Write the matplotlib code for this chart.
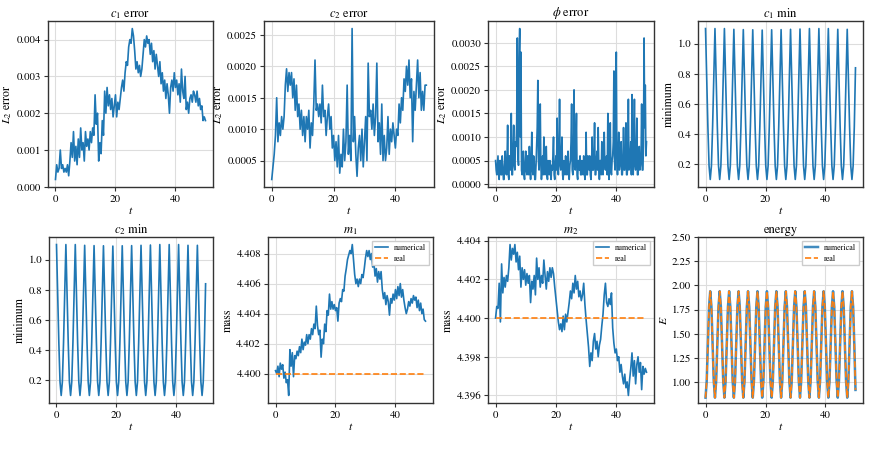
# Recreation of 2x4 diagnostics panel (errors, minima, mass, energy)

import numpy as np
import matplotlib
matplotlib.use('Agg')
import matplotlib.pyplot as plt
from matplotlib.ticker import MultipleLocator

plt.rcParams['font.family'] = 'serif'
plt.rcParams['font.serif'] = ['STIXGeneral', 'Liberation Serif', 'DejaVu Serif']
plt.rcParams['mathtext.fontset'] = 'stix'

# ---- Data ----
# L2 errors, units of 1e-4, sampled every 0.4 in t
c1_err = [2, 6, 4, 5, 10, 5, 6, 4, 5, 4,
          6, 3, 7, 12, 8, 15, 7, 11, 6, 13,
          8, 16, 10, 12, 7, 15, 11, 13, 10, 15,
          12, 16, 14, 25, 17, 20, 7, 12, 9, 18,
          14, 26, 20, 27, 22, 25, 21, 24, 19, 22,
          25, 19, 23, 21, 24, 27, 29, 26, 31, 34,
          33, 38, 40, 39, 43, 41, 37, 32, 34, 31,
          33, 30, 32, 36, 40, 38, 41, 39, 40, 36,
          39, 34, 37, 32, 36, 33, 30, 34, 28, 31,
          26, 29, 24, 28, 25, 20, 27, 29, 26, 31,
          27, 29, 25, 28, 23, 32, 26, 24, 30, 21,
          23, 20, 24, 25, 23, 26, 25, 23, 26, 22,
          24, 21, 22, 18, 19, 18]

c2_err = [2, 4, 6, 9, 15, 8, 11, 9, 12, 10,
          12, 17, 19.6, 16, 19, 17, 19, 15, 18, 13,
          17, 12, 14, 10, 13, 9, 12, 8, 12, 10,
          13, 7, 11, 9, 14, 21, 13, 14, 12, 14,
          11, 17, 12, 13, 9, 12, 14, 10, 12, 7,
          9, 5, 8, 4, 9, 3, 6, 4, 10, 5,
          8, 17, 6, 9, 5, 26, 8, 12, 6, 2.5,
          7, 9, 5, 10, 4, 8, 12, 5, 20.5, 12,
          13, 10, 14, 9, 12, 20.5, 8, 11, 6, 14,
          5, 9, 5, 7, 12, 6, 10, 8, 11, 9,
          7, 10, 9, 14, 11, 15, 13, 18, 16, 20,
          17, 21, 15, 18, 8, 16, 13, 17, 21, 15,
          19, 13, 16, 13, 17, 17]

# phi error, units of 1e-4, sampled every 0.2 in t
phi_err = [5, 3, 2, 4, 6, 2, 1, 5, 5, 2, 2, 6, 4, 1, 1, 4, 7, 3, 2, 5,
           12.5, 2, 1, 6, 6, 3, 15, 2, 2, 7, 12.5, 4, 3, 9, 8, 13, 31, 6, 4, 27,
           33, 10, 28, 3, 2, 5, 7, 2, 1, 4, 7, 3, 2, 6, 5, 2, 8, 4, 1, 5,
           11, 3, 2, 6, 5, 1, 1, 4, 8, 12, 22, 5, 3, 9, 17, 4, 1, 3, 6, 2,
           10, 4, 2, 6, 8, 2, 1, 5, 4, 2, 5, 3, 1, 4, 3, 6, 10, 2, 1, 4,
           6, 3, 14, 5, 2, 7, 18, 4, 3, 6, 10, 2, 1, 5, 4, 2, 6, 3, 2, 5,
           7, 2, 1, 4, 5, 9, 17, 3, 2, 6, 20, 4, 3, 8, 15, 2, 1, 5, 5, 3,
           6, 2, 2, 5, 4, 2, 6, 3, 1, 4, 11, 2, 2, 6, 5, 3, 6, 2, 1, 4,
           10, 3, 3, 6, 13, 2, 2, 5, 7, 3, 12, 4, 1, 5, 5, 2, 9, 3, 2, 6,
           11, 4, 3, 5, 6, 2, 15, 4, 1, 6, 13, 3, 2, 5, 6, 9, 24, 5, 3, 18,
           28, 4, 2, 6, 11, 3, 4, 7, 9, 2, 2, 5, 12, 3, 3, 6, 13, 2, 2, 5,
           18, 3, 4, 6, 9, 2, 19, 5, 2, 7, 18, 4, 3, 6, 14, 2, 2, 5, 8, 3,
           4, 6, 17, 3, 3, 8, 31, 12, 21, 6, 9]

# minima of c1 and c2 (both panels show the same curve), 128 samples over t in [0, 50]
c1_min = [1.10, 0.78, 0.45, 0.19, 0.10, 0.19, 0.45, 0.78,
          1.10, 0.78, 0.45, 0.19, 0.10, 0.19, 0.45, 0.78,
          1.10, 0.78, 0.45, 0.19, 0.10, 0.19, 0.45, 0.78,
          1.095, 0.78, 0.45, 0.19, 0.10, 0.19, 0.45, 0.78,
          1.093, 0.78, 0.45, 0.19, 0.10, 0.19, 0.45, 0.78,
          1.092, 0.78, 0.45, 0.19, 0.10, 0.19, 0.45, 0.78,
          1.09, 0.78, 0.45, 0.19, 0.10, 0.19, 0.45, 0.78,
          1.092, 0.78, 0.45, 0.19, 0.10, 0.19, 0.45, 0.78,
          1.093, 0.78, 0.45, 0.19, 0.10, 0.19, 0.45, 0.78,
          1.095, 0.78, 0.45, 0.19, 0.10, 0.19, 0.45, 0.78,
          1.097, 0.78, 0.45, 0.19, 0.10, 0.19, 0.45, 0.78,
          1.10, 0.78, 0.45, 0.19, 0.10, 0.19, 0.45, 0.78,
          1.10, 0.78, 0.45, 0.19, 0.10, 0.19, 0.45, 0.78,
          1.10, 0.78, 0.45, 0.19, 0.10, 0.19, 0.45, 0.78,
          1.095, 0.78, 0.45, 0.19, 0.10, 0.19, 0.45, 0.78,
          1.095, 0.78, 0.45, 0.19, 0.10, 0.19, 0.45, 0.84]
c2_min = list(c1_min)

# masses, offset from 4.4 in units of 1e-3, sampled every 0.4 in t
m1 = [0.2, 0.0, 0.5, -0.2, 0.7, 0.3, 0.6, -0.3, 0.1, -0.6,
      -0.4, -1.45, 1.6, 0.5, 1.4, -0.2, 1.2, 1.0, 1.5, 1.2,
      1.8, 1.4, 2.3, 1.6, 2.1, 1.9, 2.6, 2.0, 2.6, 2.3,
      3.0, 2.6, 3.3, 3.0, 4.5, 3.2, 2.6, 2.9, 1.1, 2.3,
      2.0, 3.3, 2.8, 4.2, 3.9, 5.3, 4.3, 4.8, 4.3, 4.6,
      4.2, 4.4, 3.5, 4.7, 5.0, 4.8, 5.6, 5.5, 6.5, 7.0,
      7.6, 7.9, 8.2, 8.0, 8.6, 7.6, 6.6, 6.0, 6.3, 5.8,
      6.3, 6.0, 6.6, 6.4, 7.0, 7.7, 8.2, 7.8, 8.2, 7.6,
      8.0, 7.1, 7.4, 6.5, 7.0, 6.1, 6.8, 6.3, 6.8, 5.6,
      5.0, 5.4, 4.6, 5.2, 4.8, 3.9, 5.0, 4.7, 5.3, 4.9,
      5.6, 5.0, 5.8, 5.2, 6.0, 5.1, 5.6, 4.9, 4.4, 4.0,
      4.3, 4.8, 4.5, 5.0, 4.7, 5.2, 4.9, 5.1, 4.4, 4.9,
      4.2, 4.7, 4.0, 4.3, 3.6, 3.5]

m2 = [0.0, 0.6, 0.5, 1.8, -0.2, 2.8, 1.3, 2.1, 1.6, 2.2,
      1.9, 2.6, 3.8, 3.0, 3.6, 3.3, 3.8, 2.9, 3.4, 2.5,
      3.2, 1.6, 2.6, 2.0, 2.5, 1.7, 2.3, 1.8, 2.2, 0.8,
      1.9, 1.5, 2.2, 1.2, 3.1, 2.0, 2.6, 1.6, 2.2, 1.8,
      3.0, 2.2, 1.5, 2.4, 1.9, 2.6, 2.1, 2.6, 2.3, 1.6,
      1.0, 0.4, -0.2, -0.6, -0.3, -0.7, 0.1, -0.6, 0.2, -0.2,
      0.3, 0.8, 1.4, 1.0, 1.8, 1.3, 2.2, 1.5, 1.9, 1.1,
      1.4, 0.9, 1.2, 1.8, 0.7, -0.1, -0.8, -1.5, -2.5, -1.8,
      -2.2, -1.2, -0.8, -1.6, -1.2, -2.0, -1.4, -1.1, -0.4, 0.2,
      1.2, 1.8, 0.8, 0.6, 1.0, 0.7, 1.3, -0.5, -1.3, -1.8,
      -1.6, -2.2, -2.0, -2.8, -2.4, -3.0, -3.4, -2.9, -3.6, -3.3,
      -4.0, -3.2, -2.6, -1.8, -3.0, -2.2, -3.4, -2.4, -2.0, -2.8,
      -2.3, -3.7, -2.5, -2.9, -2.6, -2.8]
mass_real = 4.4

# energy, 128 samples over t in [0, 50]; numerical and real coincide
energy_num = [0.84, 1.01, 1.39, 1.78, 1.94, 1.78, 1.39, 1.01,
              0.84, 1.01, 1.39, 1.78, 1.94, 1.78, 1.39, 1.01,
              0.84, 1.01, 1.39, 1.78, 1.94, 1.78, 1.39, 1.01,
              0.84, 1.01, 1.39, 1.78, 1.94, 1.78, 1.39, 1.01,
              0.84, 1.01, 1.39, 1.78, 1.94, 1.78, 1.39, 1.01,
              0.84, 1.01, 1.39, 1.78, 1.94, 1.78, 1.39, 1.01,
              0.84, 1.01, 1.39, 1.78, 1.94, 1.78, 1.39, 1.01,
              0.84, 1.01, 1.39, 1.78, 1.94, 1.78, 1.39, 1.01,
              0.84, 1.01, 1.39, 1.78, 1.94, 1.78, 1.39, 1.01,
              0.84, 1.01, 1.39, 1.78, 1.94, 1.78, 1.39, 1.01,
              0.84, 1.01, 1.39, 1.78, 1.94, 1.78, 1.39, 1.01,
              0.84, 1.01, 1.39, 1.78, 1.94, 1.78, 1.39, 1.01,
              0.84, 1.01, 1.39, 1.78, 1.94, 1.78, 1.39, 1.01,
              0.84, 1.01, 1.39, 1.78, 1.94, 1.78, 1.39, 1.01,
              0.84, 1.01, 1.39, 1.78, 1.94, 1.78, 1.39, 1.01,
              0.84, 1.01, 1.39, 1.78, 1.94, 1.78, 1.39, 0.92]
energy_real = list(energy_num)

t_end = 50.0

def tgrid(vals):
    return np.linspace(0, t_end, len(vals))

# ---- Plotting ----
fig = plt.figure(figsize=(8.71, 4.63), dpi=100)

h = 0.3585
row1, row2 = 0.5961, 0.1296
ax1 = fig.add_axes([0.0551, row1, 0.1894, h])
ax2 = fig.add_axes([0.3031, row1, 0.1952, h])
ax3 = fig.add_axes([0.5603, row1, 0.1906, h])
ax4 = fig.add_axes([0.8014, row1, 0.1894, h])
ax5 = fig.add_axes([0.0563, row2, 0.1883, h])
ax6 = fig.add_axes([0.3077, row2, 0.1894, h])
ax7 = fig.add_axes([0.5603, row2, 0.1906, h])
ax8 = fig.add_axes([0.8014, row2, 0.1894, h])

blue = '#1f77b4'
orange = '#ff7f0e'
lw = 1.2

ax1.plot(tgrid(c1_err), np.array(c1_err) * 1e-4, color=blue, lw=lw)
ax2.plot(tgrid(c2_err), np.array(c2_err) * 1e-4, color=blue, lw=lw)
ax3.plot(tgrid(phi_err), np.array(phi_err) * 1e-4, color=blue, lw=lw)
ax3.yaxis.set_major_locator(MultipleLocator(0.0005))
ax4.plot(tgrid(c1_min), c1_min, color=blue, lw=lw)
ax5.plot(tgrid(c2_min), c2_min, color=blue, lw=lw)

ax6.plot(tgrid(m1), mass_real + np.array(m1) * 1e-3, color=blue, lw=lw, label='numerical')
ax6.plot(tgrid(m1), np.full(len(m1), mass_real), color=orange, lw=lw, ls='--', label='real')
ax7.plot(tgrid(m2), mass_real + np.array(m2) * 1e-3, color=blue, lw=lw, label='numerical')
ax7.plot(tgrid(m2), np.full(len(m2), mass_real), color=orange, lw=lw, ls='--', label='real')

ax8.plot(tgrid(energy_num), energy_num, color=blue, lw=lw + 0.6, alpha=0.85, label='numerical')
ax8.plot(tgrid(energy_real), energy_real, color=orange, lw=lw, ls='--', label='real')
ax8.set_ylim(top=2.5)

titles = [r'$c_1$ error', r'$c_2$ error', r'$\phi$ error', r'$c_1$ min',
          r'$c_2$ min', r'$m_1$', r'$m_2$', 'energy']
ylabels = [r'$L_2$ error', r'$L_2$ error', r'$L_2$ error', 'minimum',
           'minimum', 'mass', 'mass', r'$E$']

for ax, title, ylab in zip([ax1, ax2, ax3, ax4, ax5, ax6, ax7, ax8], titles, ylabels):
    ax.set_title(title, fontsize=9, pad=3)
    ax.set_xlabel(r'$t$', fontsize=8.5, labelpad=1)
    ax.set_ylabel(ylab, fontsize=8.5, labelpad=1.5)
    ax.set_xticks([0, 20, 40])
    ax.tick_params(labelsize=7.8, length=3, width=0.8, color='#333333', pad=2)
    ax.grid(True, color='#dddddd', linewidth=0.8)
    ax.set_axisbelow(True)
    ax.ticklabel_format(axis='y', useOffset=False)
    for s in ax.spines.values():
        s.set_color('#333333')
        s.set_linewidth(1.0)

for ax in [ax6, ax7, ax8]:
    ax.legend(loc='upper right', fontsize=5.8, frameon=True, fancybox=False,
              edgecolor='#cccccc', framealpha=1.0, handlelength=1.6,
              borderpad=0.35, labelspacing=0.35)

plt.savefig('out.png', dpi=100)
plt.close()
